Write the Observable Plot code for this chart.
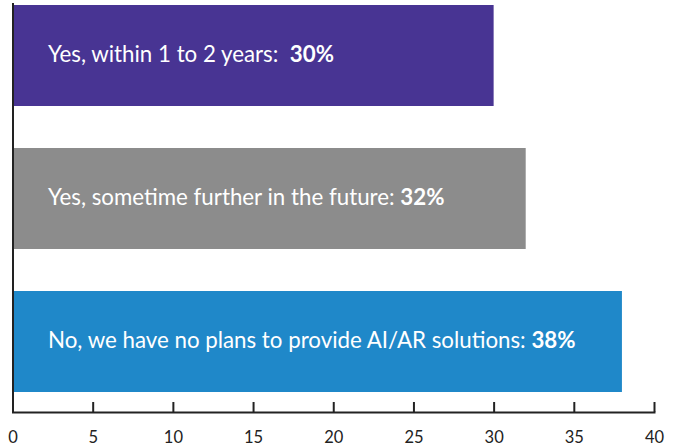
<!DOCTYPE html>
<html>
<head>
<meta charset="utf-8">
<script src="https://cdn.jsdelivr.net/npm/d3@7"></script>
<script src="https://cdn.jsdelivr.net/npm/@observablehq/plot@0.6"></script>
<style>
  html, body { margin: 0; padding: 0; background: #fff; }
  svg { display: block; }
</style>
</head>
<body>
<div id="chart"></div>
<script>
const categories = [
  "Yes, within 1 to 2 years:  ",
  "Yes, sometime further in the future: ",
  "No, we have no plans to provide AI/AR solutions: "
];
const values = [30, 32, 38];
const colors = ["#483493", "#8c8c8c", "#1f88c9"];
const xTicks = [0, 5, 10, 15, 20, 25, 30, 35, 40];

const data = categories.map((c, i) => ({cat: c, value: values[i], color: colors[i]}));

const plot = Plot.plot({
  width: 685,
  height: 446,
  marginLeft: 12.5,
  marginRight: 31,
  marginTop: 3,
  marginBottom: 34,
  style: {fontFamily: "Lato, sans-serif", background: "#fff"},
  x: {domain: [0, 40], ticks: xTicks},
  y: {domain: categories, range: [5, 392], padding: 0.294, paddingOuter: 0, axis: null},
  marks: [
    Plot.barX(data, {x: "value", y: "cat", fill: "color"}),
    Plot.text(data, {
      x: 0, y: "cat", text: d => d.cat + "|" + d.value + "%",
      textAnchor: "start", dx: 35, dy: -1, fill: "white", fontSize: 22.3,
      className: "barlabel"
    }),
    Plot.ruleX([0], {stroke: "#222", strokeWidth: 2}),
    Plot.frame({anchor: "bottom", stroke: "#222", strokeWidth: 2}),
    Plot.axisX({ticks: xTicks, tickSize: 0, tickPadding: 19, fontSize: 16.5, fill: "#222", label: null}),
    Plot.axisX({ticks: xTicks, tickSize: -10, text: null, stroke: "#222", strokeWidth: 2, label: null, className: "innerticks"})
  ]
});

// split label text into normal + bold percentage
d3.select(plot).selectAll(".barlabel text").each(function() {
  const t = this.textContent;
  const [label, pct] = t.split("|");
  const sel = d3.select(this);
  sel.text(null).attr("xml:space", "preserve").style("white-space", "pre");
  sel.append("tspan").text(label);
  sel.append("tspan").attr("font-weight", "bold").text(pct);
});

document.getElementById("chart").appendChild(plot);
</script>
</body>
</html>
